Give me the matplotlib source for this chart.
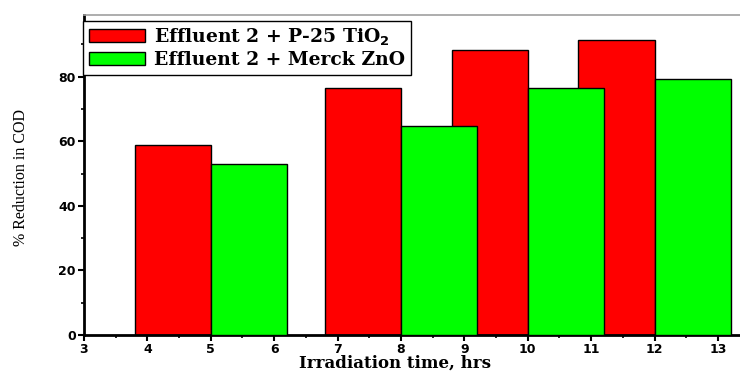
import matplotlib
matplotlib.use("Agg")
import matplotlib.pyplot as plt
from matplotlib.ticker import MultipleLocator

hours = [5, 8, 10, 12]
tio2 = [58.8, 76.4, 88.2, 91.2]
zno = [52.8, 64.6, 76.4, 79.3]
label_tio2 = "Effluent 2 + P-25 TiO$_\\mathbf{2}$"
label_zno = "Effluent 2 + Merck ZnO"
xticks = list(range(3, 14))
yticks = [0, 20, 40, 60, 80]

W = 1.2
fig = plt.figure(figsize=(7.4, 3.71), dpi=100)
ax = fig.add_axes([84/740, 1-335/371, 1-84/740+0.001, (335-15.3)/371])

ax.bar([h - W/2 for h in hours], tio2, width=W, color="#ff0000", edgecolor="black", linewidth=1.0, label=label_tio2, zorder=2)
ax.bar([h + W/2 for h in hours], zno, width=W, color="#00ff00", edgecolor="black", linewidth=1.0, label=label_zno, zorder=3)

ax.set_xlim(3, 13.36)
ax.set_ylim(0, 99)
ax.set_xticks(xticks)
ax.set_yticks(yticks)
ax.xaxis.set_minor_locator(MultipleLocator(0.5))
ax.yaxis.set_minor_locator(MultipleLocator(10))
ax.tick_params(axis="both", which="major", direction="out", length=4, width=1.5, labelsize=9, pad=2)
ax.tick_params(axis="x", which="major", pad=1.5)
ax.tick_params(axis="both", which="minor", direction="out", length=2.5, width=1.2)
for lab in ax.get_xticklabels() + ax.get_yticklabels():
    lab.set_fontweight("heavy")
    lab.set_family("DejaVu Sans")

ax.spines["right"].set_visible(False)
ax.spines["left"].set_linewidth(2)
ax.spines["bottom"].set_linewidth(2)
ax.spines["top"].set_linewidth(1.2)
ax.spines["top"].set_color("#a0a0a0")

fig.text(395/740, 1-363/371, "Irradiation time, hrs", family="DejaVu Serif", fontweight="bold",
         fontsize=12, ha="center", va="center")
fig.text(21/740, 1-178/371, "% Reduction in COD", family="Liberation Serif", fontsize=11.5,
         rotation=90, ha="center", va="center")

leg = fig.legend(loc="upper left", bbox_to_anchor=(83/740, 1-20.7/371), borderaxespad=0,
                 prop={"family": "DejaVu Serif", "weight": "bold", "size": 13.5},
                 frameon=True, fancybox=False, edgecolor="black", framealpha=1,
                 handlelength=3.0, handleheight=0.7, handletextpad=0.5,
                 labelspacing=0.2, borderpad=0.3)
leg.get_frame().set_linewidth(1.0)

fig.savefig("out.png", dpi=100)
